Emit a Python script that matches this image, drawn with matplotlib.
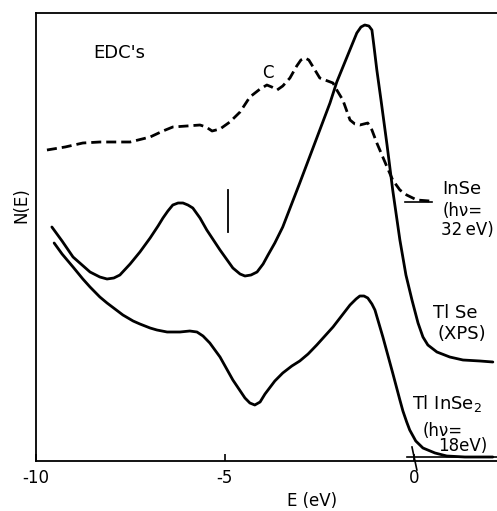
import matplotlib
matplotlib.use("Agg")
import matplotlib.pyplot as plt

plt.rcParams['font.family'] = ['DejaVu Sans']
plt.rcParams['axes.unicode_minus'] = False

# ---- data (energy in eV, N(E) in arbitrary units) ----
tlse_E = [-9.58, -9.31, -9.02, -8.57, -8.31, -8.12, -7.94, -7.78, -7.51, -7.25,
          -6.98, -6.77, -6.64, -6.51, -6.38, -6.24, -6.11, -5.98, -5.85, -5.66,
          -5.48, -5.13, -4.79, -4.60, -4.47, -4.31, -4.15, -3.99, -3.86, -3.68,
          -3.47, -3.02, -2.62, -2.22, -2.04, -1.77, -1.64, -1.51, -1.40, -1.30,
          -1.19, -1.11, -1.06, -0.98, -0.87, -0.71, -0.56, -0.37, -0.21, -0.05,
          0.11, 0.24, 0.37, 0.61, 0.95, 1.30, 1.75, 2.09]
tlse_N = [234, 220, 204, 189, 184, 182, 183, 186, 197, 209,
          223, 235, 243, 250, 256, 258, 258, 256, 253, 243,
          231, 211, 193, 187, 185, 186, 189, 197, 206, 218,
          234, 278, 318, 358, 379, 404, 416, 428, 434, 436,
          435, 431, 416, 391, 361, 316, 271, 221, 186, 161,
          138, 124, 116, 109, 104, 101, 100, 99]

tlinse2_E = [-9.52, -9.31, -9.02, -8.76, -8.57, -8.31, -8.12, -7.91, -7.70, -7.43,
             -7.25, -6.98, -6.80, -6.53, -6.19, -5.93, -5.74, -5.58, -5.40, -5.13,
             -4.79, -4.47, -4.34, -4.21, -4.07, -3.94, -3.68, -3.47, -3.23, -3.02,
             -2.80, -2.57, -2.14, -1.69, -1.53, -1.43, -1.32, -1.22, -1.11, -1.03,
             -0.82, -0.56, -0.37, -0.29, -0.19, -0.11, 0.05, 0.24, 0.56, 0.87,
             1.35, 2.09]
tlinse2_N = [218, 207, 194, 182, 174, 164, 158, 152, 146, 140,
             137, 133, 131, 129, 129, 130, 129, 125, 118, 104,
             81, 63, 58, 56, 59, 67, 80, 88, 95, 100,
             107, 116, 134, 156, 162, 165, 165, 163, 157, 151,
             124, 88, 61, 50, 39, 31, 20, 13, 8, 5,
             4, 4]

inse_E = [-9.71, -9.23, -8.76, -8.31, -7.91, -7.51, -6.98, -6.64, -6.38, -6.01,
          -5.66, -5.50, -5.34, -5.13, -4.87, -4.60, -4.34, -4.07, -3.89, -3.76,
          -3.62, -3.47, -3.28, -3.10, -2.99, -2.88, -2.78, -2.65, -2.49, -2.14,
          -2.04, -1.88, -1.69, -1.56, -1.43, -1.22, -1.11, -0.98, -0.71, -0.56,
          -0.37, -0.19, 0.08, 0.42]
inse_N = [311, 314, 318, 319, 319, 319, 324, 330, 334, 335,
          336, 334, 330, 332, 339, 349, 364, 372, 376, 374,
          371, 375, 383, 395, 401, 403, 401, 393, 383, 378,
          371, 361, 341, 337, 336, 338, 331, 318, 294, 281,
          271, 266, 261, 260]

# reference marks
inse_base_E = [-0.24, 0.48]
inse_base_N = [259, 259]
tlinse2_base_E = [-0.19, 2.2]
tlinse2_base_N = [4, 4]
edge_extrap_E = [-0.05, 0.08]
edge_extrap_N = [14, -9]
marker_E = [-4.92, -4.92]
marker_N = [271, 229]

xticks = [-10, -5, 0]
xticklabels = ['-10', '-5', '0']

fig = plt.figure(figsize=(4.97, 5.11), dpi=100)
ax = fig.add_axes([36/497, 50/511, 461/497, 448/511])

lw = 2.0
ax.plot(tlse_E, tlse_N, color='black', lw=lw, solid_capstyle='round', solid_joinstyle='round')
ax.plot(tlinse2_E, tlinse2_N, color='black', lw=lw, solid_capstyle='round', solid_joinstyle='round')
ax.plot(inse_E, inse_N, color='black', lw=lw, linestyle=(0, (3.6, 1.8)))
ax.plot(inse_base_E, inse_base_N, color='black', lw=1.2)
ax.plot(tlinse2_base_E, tlinse2_base_N, color='black', lw=1.2, clip_on=False)
ax.plot(edge_extrap_E, edge_extrap_N, color='black', lw=1.2, clip_on=False)
ax.plot(marker_E, marker_N, color='black', lw=1.3)

ax.set_xlim(-10, 2.2)
ax.set_ylim(0, 448)
ax.set_xticks(xticks)
ax.set_xticklabels(xticklabels, fontsize=12)
ax.set_yticks([])
ax.tick_params(axis='x', direction='in', length=5, width=1.2, pad=6)
ax.spines['right'].set_visible(False)
for s in ['left', 'top', 'bottom']:
    ax.spines[s].set_linewidth(1.3)

fs = 13
ax.text(0.180, 0.911, "EDC's", transform=ax.transAxes, fontsize=fs, ha='center', va='center')
ax.text(0.503, 0.866, "C", transform=ax.transAxes, fontsize=12, ha='center', va='center')

ax.text(0.881, 0.607, "InSe", transform=ax.transAxes, fontsize=fs, ha='left', va='center')
ax.text(0.881, 0.558, "(hν=", transform=ax.transAxes, fontsize=12, ha='left', va='center')
ax.text(0.878, 0.516, "32\u2009eV)", transform=ax.transAxes, fontsize=12, ha='left', va='center')

ax.text(0.861, 0.330, "Tl Se", transform=ax.transAxes, fontsize=fs, ha='left', va='center')
ax.text(0.872, 0.283, "(XPS)", transform=ax.transAxes, fontsize=fs, ha='left', va='center')

ax.text(0.816, 0.129, "Tl InSe$_2$", transform=ax.transAxes, fontsize=fs, ha='left', va='center')
ax.text(0.839, 0.067, "(hν=", transform=ax.transAxes, fontsize=12, ha='left', va='center')
ax.text(0.872, 0.033, "18eV)", transform=ax.transAxes, fontsize=12, ha='left', va='center')

fig.text(21/497, 1 - 205/511, "N(E)", rotation=90, fontsize=12, ha='center', va='center')
fig.text(312/497, 1 - 501/511, "E (eV)", fontsize=12, ha='center', va='center')

fig.savefig("out.png", dpi=100)
